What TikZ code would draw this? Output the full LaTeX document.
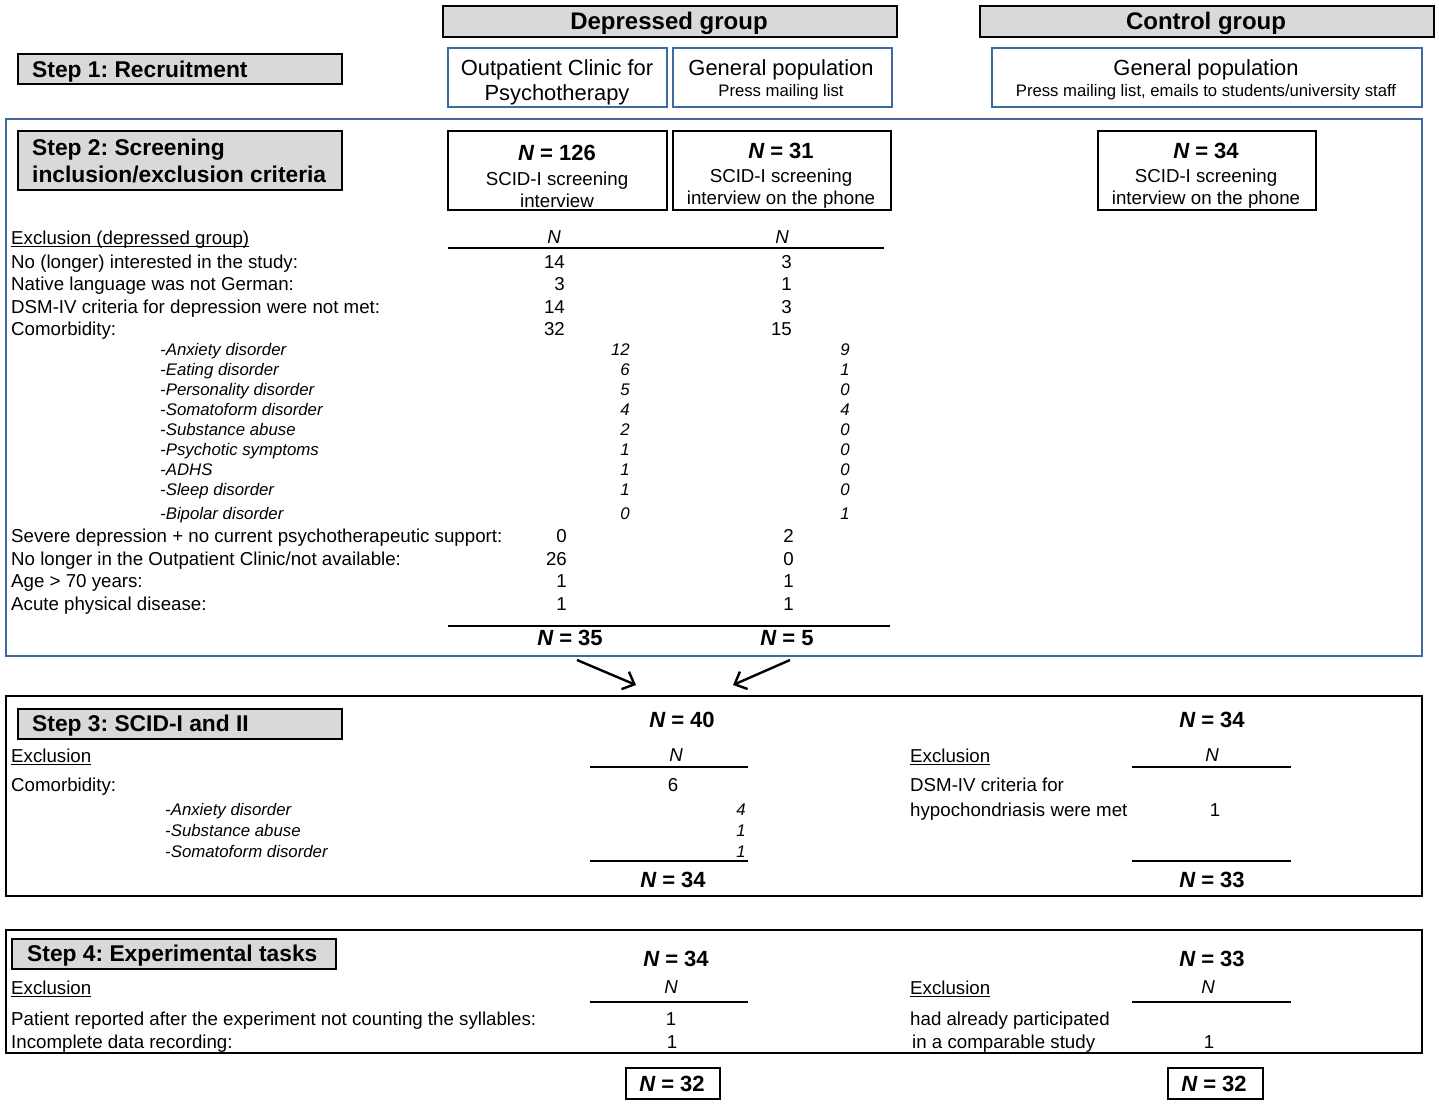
\documentclass[tikz,border=0pt]{standalone}
\usepackage{fontspec}
\setmainfont{Liberation Sans}
\usetikzlibrary{arrows.meta}
\definecolor{frameblue}{RGB}{65,105,160}
\definecolor{labelgray}{RGB}{217,217,217}
\newcommand\fsN{\fontsize{18.7}{22}\selectfont}
\newcommand\fsI{\fontsize{16.8}{20}\selectfont\itshape}
\newcommand\fsB{\fontsize{22}{26}\selectfont\bfseries}
\newcommand\fsL{\fontsize{22.8}{27}\selectfont\bfseries}
\newcommand\fsG{\fontsize{24}{28}\selectfont\bfseries}
\newcommand\fsH{\fontsize{21.9}{26}\selectfont}
\newcommand\fsS{\fontsize{16.7}{20}\selectfont}
\newcommand\ulx[1]{\setbox0=\hbox{#1}\rlap{\rule[-3.2pt]{\wd0}{1.2pt}}\box0}
\newcommand\NN{{\itshape N}}
\frenchspacing
\begin{document}
\begin{tikzpicture}[x=1pt,y=-1pt,
  txt/.style={inner sep=0pt, font=\fsN},
  lt/.style={txt, anchor=base west},
  ct/.style={txt, anchor=base},
  rt/.style={txt, anchor=base east},
  itl/.style={lt, font=\fsI},
  itr/.style={rt, font=\fsI},
  hbox/.style={draw=black, fill=labelgray, line width=1.6pt, inner sep=0pt, anchor=north west},
  bbox/.style={draw=frameblue, line width=1.6pt, inner sep=0pt, anchor=north west},
  kbox/.style={draw=black, line width=1.6pt, inner sep=0pt, anchor=north west},
  bframe/.style={draw=frameblue, line width=2pt, inner sep=0pt, anchor=north west},
  kframe/.style={draw=black, line width=2pt, inner sep=0pt, anchor=north west},
  hrule/.style={line width=1.9pt},
  arr/.style={line width=2.4pt, -{Straight Barb[length=10pt,width=19pt]}}
]
\fill[white] (0,0) rectangle (1439,1103);
\useasboundingbox (0,0) rectangle (1439,1103);

% ---------- top headers ----------
\node[hbox, minimum width=454, minimum height=31] (dep) at (442,5) {};
\node[ct, font=\fsG] (depT) at (669,29) {Depressed group};
\node[hbox, minimum width=454, minimum height=31] (ctl) at (979,5) {};
\node[ct, font=\fsG] (ctlT) at (1206,29) {Control group};

% ---------- step 1 ----------
\node[hbox, minimum width=324, minimum height=30] (s1) at (17,53) {};
\node[lt, font=\fsL] (s1T) at (32,77) {Step 1: Recruitment};
\node[bbox, minimum width=219, minimum height=59] (oc) at (447,47) {};
\node[ct, font=\fsH] (ocT1) at (557,75) {Outpatient Clinic for};
\node[ct, font=\fsH] (ocT2) at (557,100) {Psychotherapy};
\node[bbox, minimum width=219, minimum height=59] (gp) at (672,47) {};
\node[ct, font=\fsH] (gpT1) at (781,75) {General population};
\node[ct, font=\fsS] (gpT2) at (781,96) {Press mailing list};
\node[bbox, minimum width=430, minimum height=59] (cg) at (991,47) {};
\node[ct, font=\fsH] (cgT1) at (1206,75) {General population};
\node[ct, font=\fsS] (cgT2) at (1206,96) {Press mailing list, emails to students/university staff};

% ---------- step 2 ----------
\node[bframe, minimum width=1416, minimum height=537] (f2) at (5,118) {};
\node[hbox, minimum width=324, minimum height=59] (s2) at (17,130) {};
\node[lt, font=\fsL] (s2T1) at (32,155) {Step 2: Screening};
\node[lt, font=\fsL] (s2T2) at (32,182) {inclusion/exclusion criteria};

\node[kbox, minimum width=219, minimum height=79] (n1) at (447,130) {};
\node[ct, font=\fsB] (n1a) at (557,160) {\NN{} = 126};
\node[ct] (n1b) at (557,185) {SCID-I screening};
\node[ct] (n1c) at (557,207) {interview};
\node[kbox, minimum width=218, minimum height=79] (n2) at (672,130) {};
\node[ct, font=\fsB] (n2a) at (781,158) {\NN{} = 31};
\node[ct] (n2b) at (781,182) {SCID-I screening};
\node[ct] (n2c) at (781,204) {interview on the phone};
\node[kbox, minimum width=218, minimum height=79] (n3) at (1097,130) {};
\node[ct, font=\fsB] (n3a) at (1206,158) {\NN{} = 34};
\node[ct] (n3b) at (1206,182) {SCID-I screening};
\node[ct] (n3c) at (1206,204) {interview on the phone};

\node[lt] (ex2) at (11,244) {\ulx{Exclusion (depressed group)}};
\node[ct] (ex2n1) at (554,243) {\NN};
\node[ct] (ex2n2) at (782,243) {\NN};
\draw[hrule] (448,248) -- (884,248);

\node[lt] (r1) at (11,268) {No (longer) interested in the study:};
\node[rt] (r1a) at (565,268) {14}; \node[rt] (r1b) at (792,268) {3};
\node[lt] (r2) at (11,290) {Native language was not German:};
\node[rt] (r2a) at (565,290) {3}; \node[rt] (r2b) at (792,290) {1};
\node[lt] (r3) at (11,313) {DSM-IV criteria for depression were not met:};
\node[rt] (r3a) at (565,313) {14}; \node[rt] (r3b) at (792,313) {3};
\node[lt] (r4) at (11,335) {Comorbidity:};
\node[rt] (r4a) at (565,335) {32}; \node[rt] (r4b) at (792,335) {15};

\node[itl] (c1) at (160,355) {-Anxiety disorder};
\node[itr] (c1a) at (630,355) {12}; \node[itr] (c1b) at (850,355) {9};
\node[itl] (c2) at (160,375) {-Eating disorder};
\node[itr] (c2a) at (630,375) {6}; \node[itr] (c2b) at (850,375) {1};
\node[itl] (c3) at (160,395) {-Personality disorder};
\node[itr] (c3a) at (630,395) {5}; \node[itr] (c3b) at (850,395) {0};
\node[itl] (c4) at (160,415) {-Somatoform disorder};
\node[itr] (c4a) at (630,415) {4}; \node[itr] (c4b) at (850,415) {4};
\node[itl] (c5) at (160,435) {-Substance abuse};
\node[itr] (c5a) at (630,435) {2}; \node[itr] (c5b) at (850,435) {0};
\node[itl] (c6) at (160,455) {-Psychotic symptoms};
\node[itr] (c6a) at (630,455) {1}; \node[itr] (c6b) at (850,455) {0};
\node[itl] (c7) at (160,475) {-ADHS};
\node[itr] (c7a) at (630,475) {1}; \node[itr] (c7b) at (850,475) {0};
\node[itl] (c8) at (160,495) {-Sleep disorder};
\node[itr] (c8a) at (630,495) {1}; \node[itr] (c8b) at (850,495) {0};
\node[itl] (c9) at (160,519) {-Bipolar disorder};
\node[itr] (c9a) at (630,519) {0}; \node[itr] (c9b) at (850,519) {1};

\node[lt] (r5) at (11,542) {Severe depression + no current psychotherapeutic support:};
\node[rt] (r5a) at (567,542) {0}; \node[rt] (r5b) at (794,542) {2};
\node[lt] (r6) at (11,565) {No longer in the Outpatient Clinic/not available:};
\node[rt] (r6a) at (567,565) {26}; \node[rt] (r6b) at (794,565) {0};
\node[lt] (r7) at (11,587) {Age > 70 years:};
\node[rt] (r7a) at (567,587) {1}; \node[rt] (r7b) at (794,587) {1};
\node[lt] (r8) at (11,610) {Acute physical disease:};
\node[rt] (r8a) at (567,610) {1}; \node[rt] (r8b) at (794,610) {1};
\draw[hrule] (448,626) -- (890,626);
\node[ct, font=\fsB] (n35) at (570,645) {\NN{} = 35};
\node[ct, font=\fsB] (n5) at (787,645) {\NN{} = 5};

% ---------- arrows ----------
\coordinate (a1s) at (577,660);
\coordinate (a1e) at (636,685);
\coordinate (a2s) at (790,660);
\coordinate (a2e) at (733,685);
\draw[arr] (a1s) -- (a1e);
\draw[arr] (a2s) -- (a2e);

% ---------- step 3 ----------
\node[kframe, minimum width=1416, minimum height=200] (f3) at (5,695) {};
\node[hbox, minimum width=324, minimum height=30] (s3) at (17,708) {};
\node[lt, font=\fsL] (s3T) at (32,731) {Step 3: SCID-I and II};
\node[ct, font=\fsB] (n40) at (682,727) {\NN{} = 40};
\node[lt] (ex3) at (11,762) {\ulx{Exclusion}};
\node[ct] (ex3n) at (676,761) {\NN};
\draw[hrule] (590,767) -- (748,767);
\node[lt] (m3) at (11,791) {Comorbidity:};
\node[ct] (m3a) at (673,791) {6};
\node[itl] (d1) at (165,815) {-Anxiety disorder};
\node[itr] (d1a) at (746,815) {4};
\node[itl] (d2) at (165,836) {-Substance abuse};
\node[itr] (d2a) at (746,836) {1};
\node[itl] (d3) at (165,857) {-Somatoform disorder};
\node[itr] (d3a) at (746,857) {1};
\draw[hrule] (590,861) -- (748,861);
\node[ct, font=\fsB] (n34a) at (673,887) {\NN{} = 34};

\node[ct, font=\fsB] (n34c) at (1212,727) {\NN{} = 34};
\node[lt] (ex3c) at (910,762) {\ulx{Exclusion}};
\node[ct] (ex3cn) at (1212,761) {\NN};
\draw[hrule] (1132,767) -- (1291,767);
\node[lt] (h1) at (910,791) {DSM-IV criteria for};
\node[lt] (h2) at (910,816) {hypochondriasis were met};
\node[ct] (h2a) at (1215,816) {1};
\draw[hrule] (1132,861) -- (1291,861);
\node[ct, font=\fsB] (n33a) at (1212,887) {\NN{} = 33};

% ---------- step 4 ----------
\node[kframe, minimum width=1416, minimum height=123] (f4) at (5,929) {};
\node[hbox, minimum width=324, minimum height=30] (s4) at (11,938) {};
\node[lt, font=\fsL] (s4T) at (27,961) {Step 4: Experimental tasks};
\node[ct, font=\fsB] (n34d) at (676,966) {\NN{} = 34};
\node[lt] (ex4) at (11,994) {\ulx{Exclusion}};
\node[ct] (ex4n) at (671,993) {\NN};
\draw[hrule] (590,1002) -- (748,1002);
\node[lt] (p1) at (11,1025) {Patient reported after the experiment not counting the syllables:};
\node[ct] (p1a) at (671,1025) {1};
\node[lt] (p2) at (11,1048) {Incomplete data recording:};
\node[ct] (p2a) at (672,1048) {1};

\node[ct, font=\fsB] (n33b) at (1212,966) {\NN{} = 33};
\node[lt] (ex4c) at (910,994) {\ulx{Exclusion}};
\node[ct] (ex4cn) at (1208,993) {\NN};
\draw[hrule] (1132,1002) -- (1291,1002);
\node[lt] (q1) at (910,1025) {had already participated};
\node[lt] (q2) at (912,1048) {in a comparable study};
\node[ct] (q2a) at (1209,1048) {1};

\node[kbox, minimum width=94, minimum height=31] (fin1) at (625,1067) {};
\node[ct, font=\fsB] (fin1T) at (672,1091) {\NN{} = 32};
\node[kbox, minimum width=95, minimum height=31] (fin2) at (1167,1067) {};
\node[ct, font=\fsB] (fin2T) at (1214,1091) {\NN{} = 32};
\end{tikzpicture}
\end{document}
